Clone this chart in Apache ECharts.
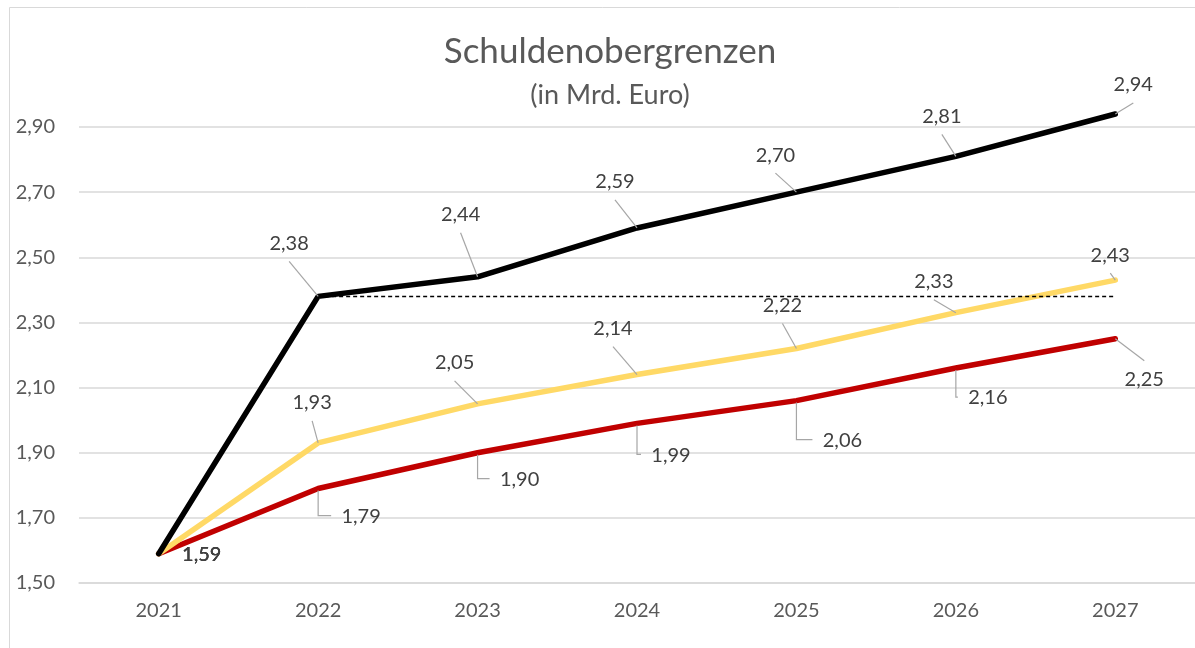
<!DOCTYPE html>
<html>
<head>
<meta charset="utf-8">
<script src="https://cdn.jsdelivr.net/npm/echarts@6/dist/echarts.min.js"></script>
<style>
html,body{margin:0;padding:0;background:#fff;}
#chart{width:1195px;height:648px;}
</style>
</head>
<body>
<div id="chart"></div>
<script>
// ---- data ----
const years = ['2021', '2022', '2023', '2024', '2025', '2026', '2027'];
const blackValues  = [1.59, 2.38, 2.44, 2.59, 2.70, 2.81, 2.94];
const yellowValues = [1.59, 1.93, 2.05, 2.14, 2.22, 2.33, 2.43];
const redValues    = [1.59, 1.79, 1.90, 1.99, 2.06, 2.16, 2.25];
const yTicks = [1.50, 1.70, 1.90, 2.10, 2.30, 2.50, 2.70, 2.90];
const titleText = 'Schuldenobergrenzen';
const subtitleText = '(in Mrd. Euro)';

// ---- label placement (style only, pixel offsets) ----
const blackOffsets  = [[43, 1], [-29, -53], [-17, -62], [-22, -46], [-21, -37], [-14, -40], [18, -29]];
const yellowOffsets = [[43, 1], [-6, -40], [-23, -41], [-24, -46], [-14, -43], [-22, -31], [-5, -25]];
const redOffsets    = [[43, 1], [43, 28], [42, 27], [34, 32], [46, 40], [32, 30], [29, 41]];
const blackLeaders  = ['none', 'diag', 'diag', 'diag', 'diag', 'diag', 'diag'];
const yellowLeaders = ['none', 'diag', 'diag', 'diag', 'diag', 'diag', 'diag'];
const redLeaders    = ['none', 'elbow', 'elbow', 'elbow', 'elbow', 'elbow', 'diag'];

const FONT = 'Lato, "Open Sans", sans-serif';
const fmt = v => Number(v).toFixed(2).replace('.', ',');

function labelSeries(name, values, offsets, leaders, z) {
  return {
    type: 'custom',
    name: name,
    z: z,
    silent: true,
    clip: false,
    data: values.map((v, i) => [i, v]),
    encode: { x: 0, y: 1 },
    renderItem: function (params, api) {
      const i = params.dataIndex;
      const p = api.coord([api.value(0), api.value(1)]);
      const off = offsets[i];
      const tx = p[0] + off[0], ty = p[1] + off[1];
      const children = [];
      const kind = leaders[i];
      const ls = { stroke: '#a6a6a6', lineWidth: 1.2, fill: null };
      if (kind === 'diag') {
        const endY = off[1] < 0 ? ty + 18 : ty - 19;
        children.push({ type: 'polyline', shape: { points: [[p[0], p[1]], [tx, endY]] }, style: ls });
      } else if (kind === 'elbow') {
        children.push({ type: 'polyline', shape: { points: [[p[0], p[1] + 2], [p[0], ty - 1], [tx - 30, ty - 1]] }, style: ls });
      }
      children.push({
        type: 'text',
        style: { text: fmt(api.value(1)), x: tx, y: ty, align: 'center', verticalAlign: 'middle', fill: '#404040', font: '20px ' + FONT }
      });
      return { type: 'group', children: children };
    }
  };
}

const chart = echarts.init(document.getElementById('chart'), null, { renderer: 'canvas' });
chart.setOption({
  backgroundColor: '#fff',
  animation: false,
  graphic: [
    { type: 'rect', silent: true, shape: { x: 9.5, y: 7.5, width: 1220, height: 680 }, style: { fill: null, stroke: '#d9d9d9', lineWidth: 1 } },
    { type: 'text', silent: true, style: { text: titleText, x: 610, y: 52, align: 'center', verticalAlign: 'middle', fill: '#595959', font: '35px ' + FONT } },
    { type: 'text', silent: true, style: { text: subtitleText, x: 610, y: 95, align: 'center', verticalAlign: 'middle', fill: '#595959', font: '27px ' + FONT } }
  ],
  grid: { left: 79, right: -4, top: 127, bottom: 65, containLabel: false },
  xAxis: {
    type: 'category',
    data: years,
    boundaryGap: true,
    axisLine: { show: true, lineStyle: { color: '#d9d9d9', width: 1.5 } },
    axisTick: { show: false },
    axisLabel: { color: '#595959', fontSize: 20, fontFamily: FONT, margin: 18 },
    splitLine: { show: false }
  },
  yAxis: {
    type: 'value',
    min: yTicks[0],
    max: yTicks[yTicks.length - 1],
    interval: 0.2,
    axisLine: { show: false },
    axisTick: { show: false },
    axisLabel: { color: '#595959', fontSize: 20, fontFamily: FONT, margin: 24, formatter: v => fmt(v) },
    splitLine: { show: true, lineStyle: { color: '#d9d9d9', width: 1.5 } }
  },
  series: [
    {
      type: 'line', name: 'Rot', data: redValues, z: 2, clip: false, symbol: 'none',
      lineStyle: { color: '#c00000', width: 5.5, cap: 'round', join: 'round' }
    },
    {
      type: 'line', name: 'Gelb', data: yellowValues, z: 3, clip: false, symbol: 'none',
      lineStyle: { color: '#ffd966', width: 5.5, cap: 'round', join: 'round' }
    },
    {
      type: 'line', name: 'Schwarz', data: blackValues, z: 4, clip: false, symbol: 'none',
      lineStyle: { color: '#000000', width: 5.5, cap: 'round', join: 'round' },
      markLine: {
        silent: true, symbol: ['none', 'none'], label: { show: false }, z: 5,
        lineStyle: { type: [4, 3], color: '#000', width: 1.3 },
        emphasis: { disabled: true },
        data: [[{ coord: [years[1], blackValues[1]] }, { coord: [years[6], blackValues[1]] }]]
      }
    },
    labelSeries('RotLabels', redValues, redOffsets, redLeaders, 6),
    labelSeries('GelbLabels', yellowValues, yellowOffsets, yellowLeaders, 6),
    labelSeries('SchwarzLabels', blackValues, blackOffsets, blackLeaders, 6)
  ]
});
</script>
</body>
</html>
